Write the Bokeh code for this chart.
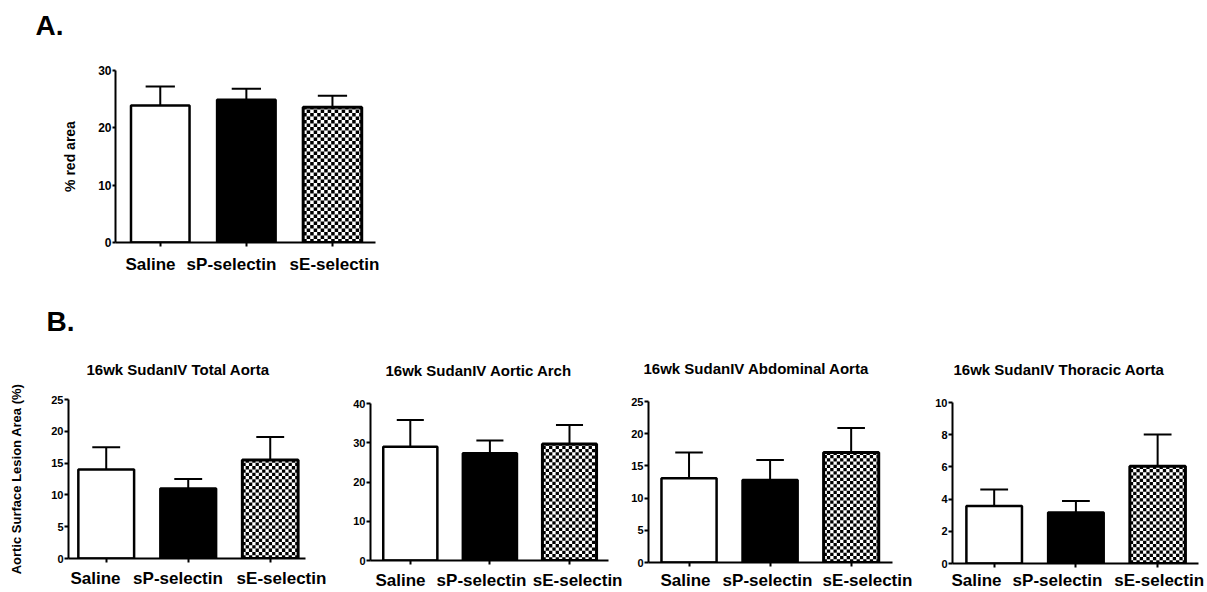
import math
from bokeh.plotting import figure
from bokeh.models import Range1d, FixedTicker, ColumnDataSource, Title, CustomJSTickFormatter
from bokeh.layouts import column, row
from bokeh.embed import file_html
from bokeh.resources import INLINE

# ---------------- data ----------------
groups = ["Saline", "sP-selectin", "sE-selectin"]

a_ylabel = "% red area"
a_mean = [23.9, 24.9, 23.6]
a_sem = [3.3, 1.9, 2.0]
a_ticks = [0, 10, 20, 30]

b_ylabel = "Aortic Surface Lesion Area (%)"
total_title = "16wk SudanIV Total Aorta"
total_mean = [14.0, 11.0, 15.5]
total_sem = [3.5, 1.5, 3.6]
total_ticks = [0, 5, 10, 15, 20, 25]

arch_title = "16wk SudanIV Aortic Arch"
arch_mean = [29.0, 27.3, 29.7]
arch_sem = [6.8, 3.3, 4.8]
arch_ticks = [0, 10, 20, 30, 40]

abd_title = "16wk SudanIV Abdominal Aorta"
abd_mean = [13.1, 12.8, 17.1]
abd_sem = [4.0, 3.1, 3.8]
abd_ticks = [0, 5, 10, 15, 20, 25]

thor_title = "16wk SudanIV Thoracic Aorta"
thor_mean = [3.57, 3.17, 6.04]
thor_sem = [1.02, 0.71, 1.98]
thor_ticks = [0, 2, 4, 6, 8, 10]

# ---------------- styling ----------------
FONT = "Liberation Sans"
bar_fill = ["white", "black", "white"]
bar_checker = [False, False, True]
BAR_W = 0.68


def checker_cells(xc, top, px_x, px_y, sq):
    """Black squares of a checkerboard texture filling the bar at xc, 0..top."""
    left, right = xc - BAR_W / 2, xc + BAR_W / 2
    dx, dy = sq / px_x, sq / px_y
    ncol = math.ceil((right - left) / dx)
    nrow = math.ceil(top / dy)
    L, R, B, T = [], [], [], []
    for i in range(ncol):
        for j in range(nrow):
            if (i + j) % 2 == 0:
                L.append(left + i * dx)
                R.append(min(left + (i + 1) * dx, right))
                B.append(j * dy)
                T.append(min((j + 1) * dy, top))
    return dict(left=L, right=R, bottom=B, top=T)


def add_title(p, text, size, offset, standoff):
    p.add_layout(Title(text=text, align="left", offset=offset, standoff=standoff,
                       text_font=FONT, text_font_style="bold", text_font_size=size,
                       text_color="black"), "above")


def panel(means, sems, ticks, W, H, left, right, top, bottom, xr, label_px, frame_left, frame_w,
          title=None, title_standoff=50, title_left=None,
          ylabel=None, ylabel_size="13px", ylabel_standoff=20,
          ytick_size="11px", xlab_size="17px", xlab_standoff=5,
          ytick_out=4, sq=3.3):
    xs = list(range(len(groups)))
    p = figure(width=W, height=H, min_border_left=left, min_border_right=right,
               min_border_top=top, min_border_bottom=bottom,
               x_range=Range1d(*xr), y_range=Range1d(ticks[0], ticks[-1]),
               output_backend="svg", toolbar_location=None)
    p.outline_line_color = None
    p.xgrid.visible = False
    p.ygrid.visible = False
    if title:
        add_title(p, title, "15px", title_left - frame_left, title_standoff)

    ups = [m + s for m, s in zip(means, sems)]
    err = ColumnDataSource(dict(x=xs, m=means, up=ups,
                                xl=[x - 0.17 for x in xs], xr=[x + 0.17 for x in xs]))
    p.segment(x0="x", y0="m", x1="x", y1="up", source=err, line_color="black", line_width=2)
    p.segment(x0="xl", y0="up", x1="xr", y1="up", source=err, line_color="black", line_width=2)

    src = ColumnDataSource(dict(x=xs, top=means, fill=bar_fill))
    p.vbar(x="x", top="top", bottom=0, width=BAR_W, source=src,
           fill_color="fill", line_color=None)

    frame_h = H - top - bottom
    px_x = frame_w / (xr[1] - xr[0])
    px_y = frame_h / (ticks[-1] - ticks[0])
    for x, m, chk in zip(xs, means, bar_checker):
        if chk:
            p.quad(source=ColumnDataSource(checker_cells(x, m, px_x, px_y, sq)),
                   left="left", right="right", bottom="bottom", top="top",
                   fill_color="black", line_color=None)
    lw = [2.5 if not c else 3 for c in bar_checker]
    p.vbar(x=xs, top=means, bottom=0, width=BAR_W, fill_color=None,
           line_color="black", line_width=lw)

    # x axis: group labels at their (slightly spread) places, tick marks at the bar centres
    pos = [xr[0] + (px - frame_left) * (xr[1] - xr[0]) / frame_w for px in label_px]
    xa = p.xaxis[0]
    xa.ticker = FixedTicker(ticks=pos, minor_ticks=xs)
    xa.formatter = CustomJSTickFormatter(args=dict(labels=groups), code="return labels[index];")
    xa.major_label_text_font = FONT
    xa.major_label_text_font_style = "bold"
    xa.major_label_text_font_size = xlab_size
    xa.major_label_text_color = "black"
    xa.major_label_standoff = int(xlab_standoff)
    xa.major_tick_line_color = None
    xa.major_tick_in = 0
    xa.major_tick_out = 4
    xa.minor_tick_in = 0
    xa.minor_tick_out = 4
    xa.minor_tick_line_color = "black"
    xa.minor_tick_line_width = 2
    xa.axis_line_width = 2
    xa.axis_line_color = "black"

    ya = p.yaxis[0]
    ya.ticker = FixedTicker(ticks=ticks)
    ya.major_label_text_font = FONT
    ya.major_label_text_font_style = "bold"
    ya.major_label_text_font_size = ytick_size
    ya.major_label_text_color = "black"
    ya.major_label_standoff = 1
    ya.major_tick_in = 0
    ya.major_tick_out = ytick_out
    ya.minor_tick_line_color = None
    ya.axis_line_width = 2
    ya.major_tick_line_width = 2
    ya.axis_line_color = "black"
    if ylabel:
        ya.axis_label = ylabel
        ya.axis_label_text_font = FONT
        ya.axis_label_text_font_style = "bold"
        ya.axis_label_text_font_size = ylabel_size
        ya.axis_label_text_color = "black"
        ya.axis_label_standoff = int(ylabel_standoff)
    return p


# Panel A: x 0..400, y 0..280 ; frame 115..375 x 70..242
pA = panel(a_mean, a_sem, a_ticks, W=400, H=280, left=115, right=25, top=70, bottom=38,
           xr=(-0.52, 2.5), label_px=[150, 231, 334], frame_left=115, frame_w=260,
           ylabel=a_ylabel, ylabel_size="14px", ylabel_standoff=17,
           ytick_size="12px", xlab_size="17px", xlab_standoff=8, ytick_out=3, sq=3.5)
pA.add_layout(Title(text=" ", text_font_size="10px", standoff=17), "above")
add_title(pA, "A.", "28px", 35 - 115, 0)

# Row B: y 280..592
HB = 312
pB1 = panel(total_mean, total_sem, total_ticks, W=330, H=HB, left=68, right=25, top=119, bottom=34,
            xr=(-0.46, 2.43), label_px=[95, 177.5, 281], frame_left=68, frame_w=237,
            title=total_title, title_standoff=44, title_left=86,
            ylabel=b_ylabel, ylabel_standoff=24, xlab_standoff=6)
add_title(pB1, "B.", "28px", 46 - 68, 0)

pB2 = panel(arch_mean, arch_sem, arch_ticks, W=292, H=HB, left=40, right=14, top=123, bottom=31,
            xr=(-0.5, 2.49), label_px=[400, 481, 586], frame_left=370, frame_w=238,
            title=arch_title, title_standoff=50, title_left=385, xlab_standoff=6)
pB3 = panel(abd_mean, abd_sem, abd_ticks, W=303, H=HB, left=26, right=33, top=121, bottom=28,
            xr=(-0.5, 2.51), label_px=[685, 767, 867], frame_left=648, frame_w=244,
            title=abd_title, title_standoff=50, title_left=643, xlab_standoff=4)
pB4 = panel(thor_mean, thor_sem, thor_ticks, W=282, H=HB, left=27, right=9, top=122, bottom=27,
            xr=(-0.51, 2.5), label_px=[976, 1057, 1158.7], frame_left=952, frame_w=246,
            title=thor_title, title_standoff=50, title_left=953, xlab_standoff=3)

layout = column(row(pA), row(column(pB1), column(pB2), column(pB3), column(pB4)))

open("out.html", "w").write(file_html(layout, INLINE))
